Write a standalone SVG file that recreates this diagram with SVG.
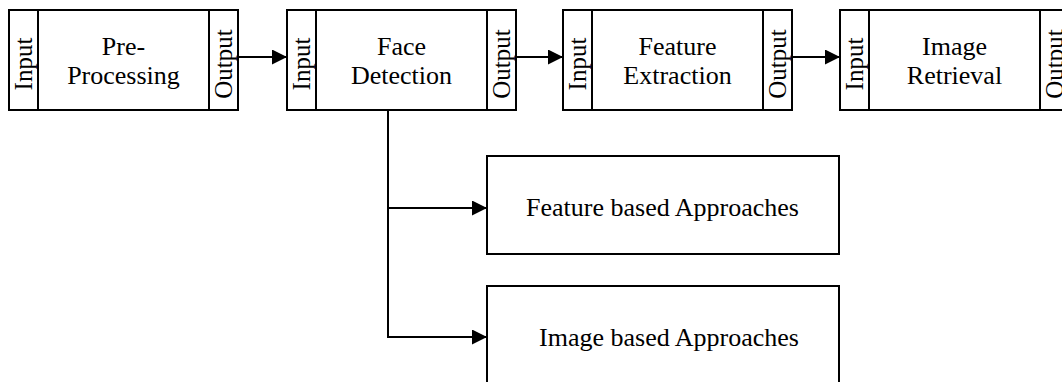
<svg xmlns="http://www.w3.org/2000/svg" width="1062" height="382" viewBox="0 0 1062 382">
<style>
.box{fill:#fff;stroke:#000;stroke-width:2}
.div{stroke:#000;stroke-width:2}
.t{font-family:"Liberation Serif","Times New Roman",serif;font-size:26px;fill:#000;text-anchor:middle}
.r{font-family:"Liberation Serif","Times New Roman",serif;font-size:25px;fill:#000;text-anchor:middle}
.c{fill:none;stroke:#000;stroke-width:2}
</style>
<defs>
<marker id="ah" markerUnits="userSpaceOnUse" markerWidth="16" markerHeight="16" refX="15" refY="7.5" orient="auto">
<path d="M0,0 L15,7.5 L0,15 Z" fill="#000"/>
</marker>
</defs>
<rect width="1062" height="382" fill="#fff"/>
<g id="preprocessing">
<rect class="box" x="9" y="10" width="229" height="100"/>
<line class="div" x1="38" y1="10" x2="38" y2="110"/>
<line class="div" x1="209" y1="10" x2="209" y2="110"/>
<text class="r" transform="translate(32,64) rotate(-90)">Input</text>
<text class="t" x="123.5" y="55">Pre-</text>
<text class="t" x="123.5" y="84">Processing</text>
<text class="r" transform="translate(232,64) rotate(-90)">Output</text>
</g>
<g id="face-detection">
<rect class="box" x="287" y="10" width="229" height="100"/>
<line class="div" x1="316" y1="10" x2="316" y2="110"/>
<line class="div" x1="487" y1="10" x2="487" y2="110"/>
<text class="r" transform="translate(310,64) rotate(-90)">Input</text>
<text class="t" x="401.5" y="55">Face</text>
<text class="t" x="401.5" y="84">Detection</text>
<text class="r" transform="translate(510,64) rotate(-90)">Output</text>
</g>
<g id="feature-extraction">
<rect class="box" x="563" y="10" width="229" height="100"/>
<line class="div" x1="592" y1="10" x2="592" y2="110"/>
<line class="div" x1="763" y1="10" x2="763" y2="110"/>
<text class="r" transform="translate(586,64) rotate(-90)">Input</text>
<text class="t" x="677.5" y="55">Feature</text>
<text class="t" x="677.5" y="84">Extraction</text>
<text class="r" transform="translate(786,64) rotate(-90)">Output</text>
</g>
<g id="image-retrieval">
<rect class="box" x="840" y="10" width="229" height="100"/>
<line class="div" x1="869" y1="10" x2="869" y2="110"/>
<line class="div" x1="1040" y1="10" x2="1040" y2="110"/>
<text class="r" transform="translate(863,64) rotate(-90)">Input</text>
<text class="t" x="954.5" y="55">Image</text>
<text class="t" x="954.5" y="84">Retrieval</text>
<text class="r" transform="translate(1063,64) rotate(-90)">Output</text>
</g>
<g id="feature-based">
<rect class="box" x="487" y="156" width="352" height="98"/>
<text class="t" x="662.5" y="216">Feature based Approaches</text>
</g>
<g id="image-based">
<rect class="box" x="487" y="286" width="352" height="102"/>
<text class="t" x="669" y="346">Image based Approaches</text>
</g>
<g id="connectors">
<line class="c" x1="238" y1="57" x2="287" y2="57" marker-end="url(#ah)"/>
<line class="c" x1="516" y1="57" x2="563" y2="57" marker-end="url(#ah)"/>
<line class="c" x1="792" y1="57" x2="840" y2="57" marker-end="url(#ah)"/>
<polyline class="c" points="388,110 388,337 487,337" marker-end="url(#ah)"/>
<line class="c" x1="388" y1="208" x2="487" y2="208" marker-end="url(#ah)"/>
</g>
</svg>
